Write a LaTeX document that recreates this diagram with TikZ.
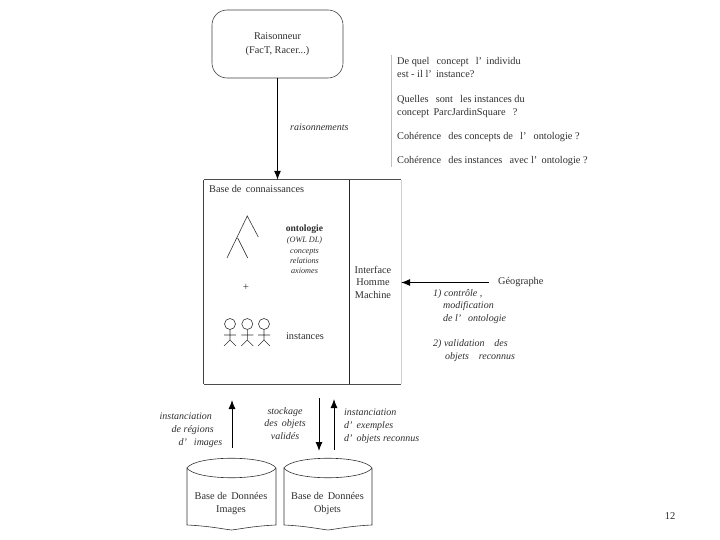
\documentclass[tikz,border=0pt]{standalone}
\usepackage{fontspec}
\setmainfont{Liberation Serif}
\usetikzlibrary{arrows.meta}
\definecolor{ink}{gray}{0.18}
\tikzset{
  x=1pt,y=-1pt,
  conn/.style={draw=black,line width=1pt,-{Latex[length=9pt,width=7pt]}},
  thin conn/.style={draw=black,line width=0.7pt,-{Latex[length=9pt,width=7pt]}},
  txt/.style={font=\fontsize{10.3}{13}\selectfont,text=ink,inner sep=0pt,align=left,anchor=north west},
  ctxt/.style={font=\fontsize{10.3}{12.5}\selectfont,text=ink,inner sep=0pt,align=center},
  itxt/.style={font=\fontsize{10}{13}\selectfont\itshape,text=ink,inner sep=0pt,align=left,anchor=north west},
  sketch/.style={draw=black!80,line width=0.6pt},
}
\begin{document}
\begin{tikzpicture}
\useasboundingbox (0,0) rectangle (720,540);
% reasoner
\node[draw=black!75,line width=0.6pt,rounded corners=15pt,minimum width=131pt,minimum height=68pt,inner sep=0pt,ctxt,font=\fontsize{10.3}{14.5}\selectfont] (raison) at (277.5,44) {Raisonneur\\(FacT, Racer...)};
% knowledge base
\node[draw=none,minimum width=197pt,minimum height=204pt,inner sep=0pt] (base) at (302.5,282) {};
\draw[draw=black!75,line width=0.8pt] (base.north west) -- (base.south west);
\draw[draw=black!70,line width=0.6pt] (base.north west) -- (base.north east);
\draw[draw=black!70,line width=0.6pt] (base.south west) -- (base.south east);
\draw[draw=black!18,line width=1.2pt] (base.north east) -- (base.south east);
\coordinate (divt) at (349,180);
\coordinate (divb) at (349,384);
\draw[draw=black!85,line width=0.6pt] (divt) -- (divb);
\node[txt] (basetitle) at (209,185) {Base de\, connaissances};
% tree
\coordinate (ta) at (247.3,216);
\coordinate (tr) at (258.3,237);
\coordinate (tl) at (227,258);
\coordinate (tm) at (237.7,238);
\coordinate (te) at (247.7,258);
\draw[sketch] (tr) -- (ta) -- (tl) (tm) -- (te);
\node[font=\fontsize{9.6}{10}\selectfont\bfseries,text=ink,inner sep=0pt] (onto) at (304.5,229) {ontologie};
\node[itxt,font=\fontsize{8.2}{10.2}\selectfont\itshape,align=center,anchor=north] (ontolist) at (304.5,237) {(OWL DL)\\concepts\\relations\\axiomes};
\node[font=\fontsize{11}{12}\selectfont,text=ink,inner sep=0pt] (plus) at (246,287) {+};
% figures
\foreach \c in {230,247.3,264}{
  \draw[sketch] (\c,324) circle (5.5pt);
  \draw[sketch] (\c,329.5) -- (\c,340) (\c-6,335) -- (\c+6,335) (\c-6,346) -- (\c,340) -- (\c+6,346);
}
\node[ctxt] (inst) at (305,336) {instances};
\node[ctxt] (ihm) at (373,282) {Interface\\Homme\\Machine};
% questions
\coordinate (qt) at (391,55);
\coordinate (qb) at (391,167);
\draw[draw=black!25,line width=1pt] (qt) -- (qb);
\node[txt] (q1) at (397,57) {De quel\;\, concept\;\, l'\, individu\\est - il l'\, instance?};
\node[txt] (q2) at (397,95) {Quelles\;\, sont\;\, les instances du\\concept\, ParcJardinSquare\;\, ?};
\node[txt] (q3) at (397,132.5) {Cohérence\;\, des concepts de\;\, l'\;\, ontologie ?};
\node[txt] (q4) at (397,156.5) {Cohérence\;\, des instances\;\, avec l'\, ontologie ?};
% geographer
\node[txt,anchor=west] (geo) at (498,282.5) {Géographe};
\node[itxt,font=\fontsize{10}{12.5}\selectfont\itshape] (g1) at (433,289) {1) contrôle ,\\\hspace*{10pt}modification\\\hspace*{10pt}de l'\;\, ontologie};
\node[itxt,font=\fontsize{10}{13}\selectfont\itshape] (g2) at (433,339) {2) validation\;\;\, des\\\hspace*{12pt}objets\;\;\, reconnus};
\node[itxt] (rais) at (290,123.5) {raisonnements};
% lower labels
\node[itxt,anchor=north west,font=\fontsize{10}{13}\selectfont\itshape] (l1) at (159.5,413) {instanciation\\\hspace*{12pt}de régions\\\hspace*{19pt}d'\;\, images};
\node[itxt,anchor=north,align=center,font=\fontsize{10}{12.5}\selectfont\itshape] (l2) at (285,407) {stockage\\des\, objets\\validés};
\node[itxt,font=\fontsize{10}{13}\selectfont\itshape] (l3) at (344,409) {instanciation\\d'\, exemples\\d'\, objets reconnus};
% cylinders
\foreach \n/\x/\w/\a/\b in {imgs/187/89/{Base de\, Données}/Images, objs/284/88/{Base de\, Données}/Objets}{
  \draw[sketch] (\x,468) .. controls (\x+\w*0.1,455) and (\x+\w*0.9,455) .. (\x+\w,468)
     .. controls (\x+\w*0.9,481) and (\x+\w*0.1,481) .. (\x,468) -- (\x,525)
     .. controls (\x+\w*0.25,526) and (\x+\w*0.4,529) .. (\x+\w*0.5,530)
     .. controls (\x+\w*0.6,529) and (\x+\w*0.75,526) .. (\x+\w,525) -- (\x+\w,468);
  \node[ctxt] (\n) at (\x+\w*0.5-0.5,503.5) {\a\\\b};
}
% connectors
\draw[conn] (raison.south) -- (raison.south |- base.north);
\draw[thin conn] (geo.west) ++(-9,0) coordinate (gs) -- (gs -| base.east);
\coordinate (a1s) at (232,448);
\coordinate (a1e) at (232,400);
\coordinate (a2s) at (319,398);
\coordinate (a2e) at (319,451);
\coordinate (a3s) at (334,450);
\coordinate (a3e) at (334,399);
\draw[conn] (a1s) -- (a1e);
\draw[conn] (a2s) -- (a2e);
\draw[conn] (a3s) -- (a3e);
\node[font=\fontsize{10.5}{11}\selectfont,text=ink,inner sep=0pt] (page) at (670,516) {12};
\end{tikzpicture}
\end{document}
